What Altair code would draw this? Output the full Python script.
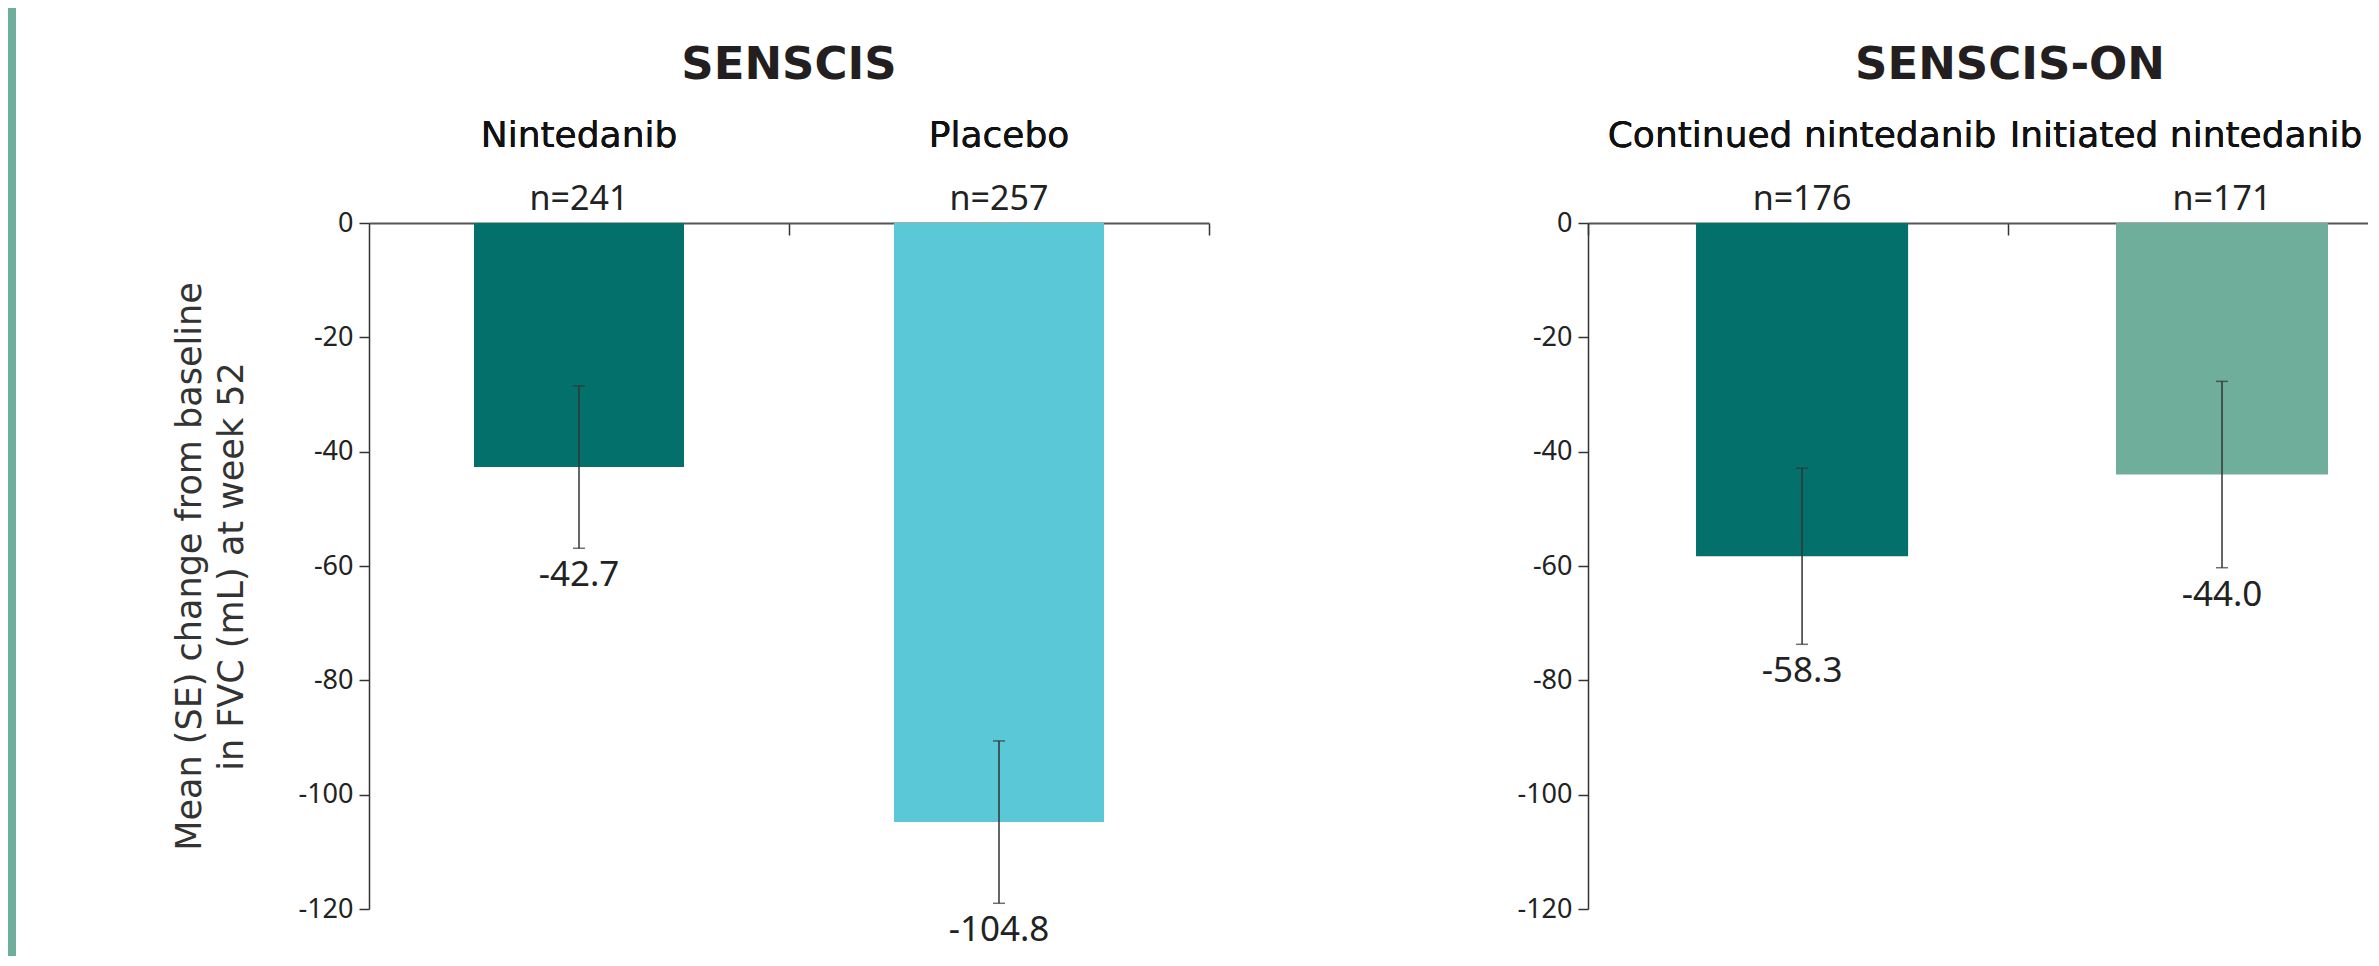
import altair as alt
import pandas as pd

# ---- data ----
studies = ["SENSCIS", "SENSCIS", "SENSCIS-ON", "SENSCIS-ON"]
arms = ["Nintedanib", "Placebo", "Continued nintedanib", "Initiated nintedanib"]
n_patients = [241, 257, 176, 171]
mean_change = [-42.7, -104.8, -58.3, -44.0]
std_error = [14.2, 14.2, 15.4, 16.3]
bar_colors = ["#03706b", "#5bc8d8", "#03706b", "#6fae9b"]
y_ticks = [0, -20, -40, -60, -80, -100, -120]
y_title = ["Mean (SE) change from baseline", "in FVC (mL) at week 52"]
strip_color = "#6fae9b"

df = pd.DataFrame({
    "study": studies,
    "arm": arms,
    "n": n_patients,
    "mean": mean_change,
    "se": std_error,
})
df["lo"] = df["mean"] - df["se"]
df["hi"] = df["mean"] + df["se"]
df["n_label"] = ["n=" + str(v) for v in df["n"]]
df["value_label"] = [f"{v:.1f}" for v in df["mean"]]

PLOT_H = 686
TEXT = "#222222"


def panel(study, left):
    d = df[df["study"] == study]
    order = list(d["arm"])
    base = alt.Chart(d)
    if left:
        width = 840
        xscale = alt.Scale(paddingInner=0.5, paddingOuter=0.25)
        # ticks between the bands and at the right end of the axis
        line_axis = alt.Axis(
            orient="bottom", offset=-PLOT_H, labels=False, domain=True, ticks=True,
            bandPosition=1, tickOffset=105, tickSize=12, domainColor="#555555",
            domainWidth=2, tickColor="#333333", tickWidth=1.5, title=None,
        )
        label_offset = 0
    else:
        # the reference panel runs past the right edge of the picture
        width = 780
        xscale = alt.Scale(paddingInner=0.495, paddingOuter=0.1762, align=0.73)
        line_axis = alt.Axis(
            orient="bottom", offset=-PLOT_H, labels=False, domain=True, ticks=True,
            bandPosition=0, tickOffset=-108, tickSize=12, domainColor="#555555",
            domainWidth=2, tickColor="#333333", tickWidth=1.5, title=None,
        )
        label_offset = alt.condition(f"datum.value == '{arms[3]}'", alt.value(-36), alt.value(0))

    yscale = alt.Scale(domain=[-120, 0], nice=False)
    yaxis = alt.Axis(
        values=y_ticks, labelExpr="'' + datum.value", grid=False,
        tickSize=10, labelPadding=6, labelFontSize=27, labelFont="Noto Sans",
        labelColor=TEXT, domainColor="#333333", tickColor="#333333",
        domainWidth=1.5, tickWidth=1.5,
        title=y_title if left else None,
        titleFont="DejaVu Sans", titleFontSize=35, titleFontWeight="normal",
        titleLineHeight=42, titleColor="#333333", titlePadding=48,
    )
    top_axis = alt.Axis(
        orient="top", domain=False, ticks=False, tickSize=0, labelPadding=69,
        labelFontSize=36, labelFont="DejaVu Sans", labelColor="#111111",
        labelAngle=0, labelLimit=1000, labelOffset=label_offset, title=None,
    )

    bars = base.mark_bar().encode(
        x=alt.X("arm:N", sort=order, scale=xscale, axis=top_axis),
        y=alt.Y("mean:Q", scale=yscale, axis=yaxis),
        color=alt.Color("arm:N", scale=alt.Scale(domain=arms, range=bar_colors), legend=None),
    )
    err = base.mark_errorbar(ticks=True, size=12, thickness=1.5, color="#333333").encode(
        x=alt.X("arm:N", sort=order, scale=xscale, axis=top_axis),
        y=alt.Y("lo:Q", scale=yscale, axis=yaxis),
        y2="hi:Q",
    )
    values = base.mark_text(baseline="top", dy=10, fontSize=35, font="Noto Sans", color=TEXT).encode(
        x=alt.X("arm:N", sort=order, scale=xscale, axis=line_axis),
        y=alt.Y("lo:Q", scale=yscale, axis=yaxis),
        text="value_label:N",
    )
    ns = base.mark_text(baseline="alphabetic", dy=-13, fontSize=34, font="Noto Sans", color=TEXT).encode(
        x=alt.X("arm:N", sort=order, scale=xscale, axis=top_axis),
        y=alt.YDatum(0, scale=yscale, axis=yaxis, type="quantitative"),
        text="n_label:N",
    )
    layers = [bars, err, values, ns]
    if left:
        strip = alt.Chart(pd.DataFrame({"k": [0]})).mark_rect(color=strip_color).encode(
            x=alt.value(-361), x2=alt.value(-353),
            y=alt.value(-215), y2=alt.value(733),
        )
        layers.append(strip)
        title = alt.TitleParams(
            study, fontSize=45, font="DejaVu Sans", fontWeight="bold",
            color="#231f20", anchor="middle", frame="group", offset=-80,
        )
    else:
        title = alt.TitleParams(
            study, fontSize=45, font="DejaVu Sans", fontWeight="bold",
            color="#231f20", anchor="middle", frame="group", offset=29, dx=32,
        )
    return alt.layer(*layers).properties(width=width, height=PLOT_H, title=title)


chart = alt.hconcat(panel("SENSCIS", True), panel("SENSCIS-ON", False), spacing=306).properties(
    padding=0
).configure_view(stroke=None)

chart.save("out.html", embed_options={"renderer": "svg", "actions": False})
